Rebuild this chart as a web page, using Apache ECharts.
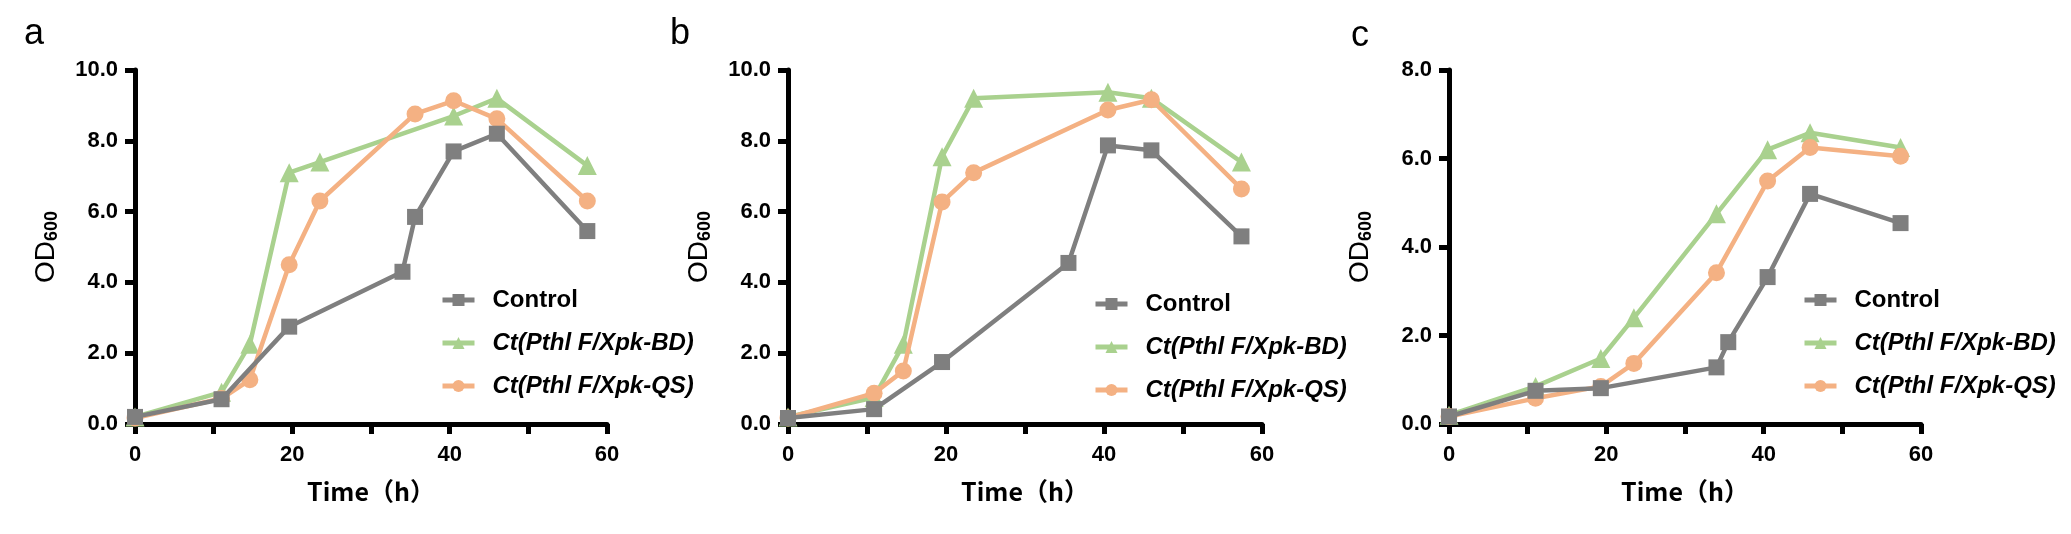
<!DOCTYPE html>
<html>
<head>
<meta charset="utf-8">
<script src="https://cdn.jsdelivr.net/npm/echarts@6/dist/echarts.min.js"></script>
<style>
html,body{margin:0;padding:0;background:#fff;}
#chart{width:2071px;height:534px;}
</style>
</head>
<body>
<div id="chart"></div>
<script>
// ---- data ----
var SERIES_NAMES = ['Control', 'Ct(Pthl F/Xpk-BD)', 'Ct(Pthl F/Xpk-QS)'];
var PANEL_LABELS = ['a', 'b', 'c'];
var X_TICKS = [0, 20, 40, 60];

// Panel a
var A_CTRL_T = [0, 11, 19.6, 34, 35.6, 40.5, 46, 57.5];
var A_CTRL_V = [0.2, 0.7, 2.75, 4.3, 5.85, 7.7, 8.2, 5.45];
var A_BD_T = [0, 11, 14.6, 19.6, 23.5, 40.5, 46, 57.5];
var A_BD_V = [0.2, 0.9, 2.25, 7.1, 7.4, 8.7, 9.2, 7.3];
var A_QS_T = [0, 11, 14.6, 19.6, 23.5, 35.6, 40.5, 46, 57.5];
var A_QS_V = [0.17, 0.72, 1.25, 4.5, 6.3, 8.76, 9.13, 8.62, 6.3];

// Panel b
var B_CTRL_T = [0, 10.9, 19.5, 35.5, 40.5, 46, 57.4];
var B_CTRL_V = [0.17, 0.42, 1.75, 4.55, 7.87, 7.73, 5.3];
var B_BD_T = [0, 10.9, 14.6, 19.5, 23.5, 40.5, 46, 57.4];
var B_BD_V = [0.2, 0.75, 2.25, 7.55, 9.2, 9.37, 9.2, 7.4];
var B_QS_T = [0, 10.9, 14.6, 19.5, 23.5, 40.5, 46, 57.4];
var B_QS_V = [0.17, 0.87, 1.5, 6.27, 7.1, 8.87, 9.16, 6.64];

// Panel c
var C_CTRL_T = [0, 11, 19.3, 34, 35.5, 40.5, 45.9, 57.4];
var C_CTRL_V = [0.17, 0.75, 0.81, 1.28, 1.85, 3.32, 5.2, 4.54];
var C_BD_T = [0, 11, 19.3, 23.5, 34, 40.5, 45.9, 57.4];
var C_BD_V = [0.2, 0.85, 1.48, 2.4, 4.75, 6.2, 6.58, 6.25];
var C_QS_T = [0, 11, 19.3, 23.5, 34, 40.5, 45.9, 57.4];
var C_QS_V = [0.17, 0.58, 0.85, 1.37, 3.42, 5.49, 6.25, 6.05];

var Y_MAX = [10, 10, 8];

// ---- styling ----
var FONT = 'Liberation Sans, Arial, sans-serif';
var COLORS = ['#7f7f7f', '#a9d18e', '#f4b183'];
var SYMBOLS = ['rect', 'triangle', 'circle'];
var SYMSIZE = [16, 19, 17];
var ZS = [4, 2, 3];

var GRIDS = [
  {left: 135, top: 70, width: 472, height: 354},
  {left: 788, top: 70, width: 474, height: 354},
  {left: 1449, top: 70, width: 472, height: 354}
];
var LEGEND_POS = [
  {left: 435, top: 283},
  {left: 1088, top: 287},
  {left: 1797, top: 283}
];
var LABEL_POS = [[24, 38], [670, 38], [1351, 40]];

function pairs(t, v) { return t.map(function (x, i) { return [x, v[i]]; }); }

var panelData = [
  [pairs(A_CTRL_T, A_CTRL_V), pairs(A_BD_T, A_BD_V), pairs(A_QS_T, A_QS_V)],
  [pairs(B_CTRL_T, B_CTRL_V), pairs(B_BD_T, B_BD_V), pairs(B_QS_T, B_QS_V)],
  [pairs(C_CTRL_T, C_CTRL_V), pairs(C_BD_T, C_BD_V), pairs(C_QS_T, C_QS_V)]
];

var grid = [], xAxis = [], yAxis = [], series = [], legend = [], graphic = [];

for (var p = 0; p < 3; p++) {
  grid.push(GRIDS[p]);
  xAxis.push({
    type: 'value', gridIndex: p, min: 0, max: 60, interval: 10,
    name: 'Time（h）', nameLocation: 'middle', nameGap: 55,
    nameTextStyle: {fontFamily: 'Noto Sans CJK SC, ' + FONT, fontWeight: 'bold', fontSize: 25, color: '#000'},
    axisLine: {show: true, onZero: false, lineStyle: {color: '#000', width: 5}},
    axisTick: {show: true, inside: false, length: 10, lineStyle: {color: '#000', width: 5}},
    axisLabel: {
      margin: 20, color: '#000', fontFamily: FONT, fontWeight: 'bold', fontSize: 22,
      formatter: function (v) { return X_TICKS.indexOf(v) >= 0 ? String(v) : ''; }
    },
    splitLine: {show: false}
  });
  yAxis.push({
    type: 'value', gridIndex: p, min: 0, max: Y_MAX[p], interval: 2,
    name: '{a|OD}{s|600}', nameLocation: 'middle', nameRotate: 90, nameGap: 74,
    nameTextStyle: {
      color: '#000', fontFamily: FONT,
      rich: {
        a: {fontSize: 28, fontFamily: FONT, color: '#000', fontWeight: 'normal'},
        s: {fontSize: 18, fontFamily: FONT, color: '#000', fontWeight: 'bold', padding: [12, 0, 0, 0]}
      }
    },
    axisLine: {show: true, onZero: false, lineStyle: {color: '#000', width: 5}},
    axisTick: {show: true, inside: false, length: 10, lineStyle: {color: '#000', width: 5}},
    axisLabel: {
      margin: 17, color: '#000', fontFamily: FONT, fontWeight: 'bold', fontSize: 22,
      formatter: function (v) { return v.toFixed(1); }
    },
    splitLine: {show: false}
  });
  [1, 2, 0].forEach(function (k) {
    series.push({
      type: 'line', name: SERIES_NAMES[k], xAxisIndex: p, yAxisIndex: p,
      data: panelData[p][k],
      symbol: SYMBOLS[k], symbolSize: SYMSIZE[k], showAllSymbol: true,
      lineStyle: {color: COLORS[k], width: 4.5},
      itemStyle: {color: COLORS[k], borderWidth: 0},
      z: ZS[k]
    });
  });
  legend.push({
    orient: 'vertical', left: LEGEND_POS[p].left, top: LEGEND_POS[p].top,
    data: SERIES_NAMES.slice(), selectedMode: false,
    itemWidth: 32, itemHeight: 15, itemGap: 19,
    lineStyle: {width: 5},
    formatter: function (n) { return n === 'Control' ? '{n|' + n + '}' : '{i|' + n + '}'; },
    textStyle: {
      color: '#000', fontSize: 24, fontWeight: 'bold', fontFamily: FONT,
      rich: {
        n: {fontSize: 24, fontWeight: 'bold', fontFamily: FONT, color: '#000', padding: [0, 0, 0, 13], lineHeight: 24},
        i: {fontSize: 24, fontWeight: 'bold', fontStyle: 'italic', fontFamily: FONT, color: '#000', padding: [0, 0, 0, 13], lineHeight: 24}
      }
    }
  });
  graphic.push({
    type: 'text', left: LABEL_POS[p][0], top: LABEL_POS[p][1] - 22,
    style: {text: PANEL_LABELS[p], fontSize: 36, fontFamily: FONT, fill: '#000'}
  });
}

var chart = echarts.init(document.getElementById('chart'), null, {renderer: 'canvas'});
chart.setOption({
  animation: false,
  backgroundColor: '#fff',
  grid: grid, xAxis: xAxis, yAxis: yAxis, series: series, legend: legend, graphic: graphic
});
</script>
</body>
</html>
